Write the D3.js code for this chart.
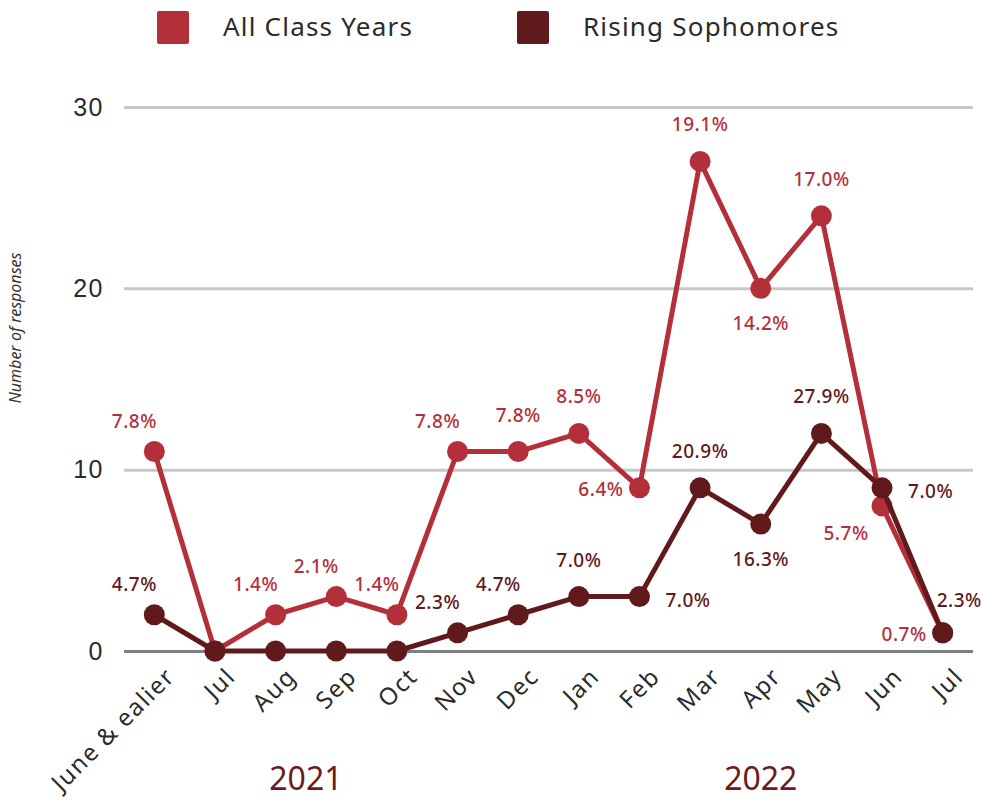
<!DOCTYPE html>
<html>
<head>
<meta charset="utf-8">
<script src="https://cdn.jsdelivr.net/npm/d3@7"></script>
<style>
  body { margin: 0; background: #fff; }
  svg { font-family: "Noto Sans", sans-serif; }
</style>
</head>
<body>
<script>
// categories along the x axis
const months = ["June & ealier", "Jul", "Aug", "Sep", "Oct", "Nov", "Dec", "Jan", "Feb", "Mar", "Apr", "May", "Jun", "Jul"];
const years = [{ name: "2021", from: 1, to: 4 }, { name: "2022", from: 7, to: 13 }];

// number of responses
const allYears = [11, 0, 2, 3, 2, 11, 11, 12, 9, 27, 20, 24, 8, 1];
const sophomores = [2, 0, 0, 0, 0, 1, 2, 3, 3, 9, 7, 12, 9, 1];

// percent labels (null = no label)
const allYearsPct = ["7.8%", null, "1.4%", "2.1%", "1.4%", "7.8%", "7.8%", "8.5%", "6.4%", "19.1%", "14.2%", "17.0%", "5.7%", "0.7%"];
const sophPct = ["4.7%", null, null, null, null, "2.3%", "4.7%", "7.0%", "7.0%", "20.9%", "16.3%", "27.9%", "7.0%", "2.3%"];

const yTicks = [0, 10, 20, 30];

// where each label sits relative to its point
const allYearsPos = ["nw", null, "nw", "nw", "nw", "nw", "n", "n", "w", "n", "s", "n", "sw", "w"];
const sophPos = ["nw", null, null, null, null, "nw", "nw", "n", "e", "n", "s", "n", "e", "ne"];

const width = 981, height = 809;
const red = "#b3303a", dark = "#611a1c";

const svg = d3.select("body").append("svg")
  .attr("width", width)
  .attr("height", height);

const x = d3.scalePoint()
  .domain(d3.range(months.length))
  .range([124, 973])
  .padding(0.5);

const y = d3.scaleLinear()
  .domain([0, 30])
  .range([651, 107]);

// gridlines + y tick labels
const yAxis = d3.axisLeft(y).tickValues(yTicks).tickSize(-(973 - 124)).tickPadding(20);
svg.append("g")
  .attr("transform", "translate(124,0)")
  .call(yAxis)
  .call(g => g.select(".domain").remove())
  .call(g => g.selectAll(".tick line")
    .attr("stroke", d => d === 0 ? "#808080" : "#c8c8c8")
    .attr("stroke-width", 3))
  .call(g => g.selectAll(".tick text")
    .attr("fill", "#2b2b2b")
    .attr("font-size", 25)
    .attr("letter-spacing", 1.5)
    .attr("font-weight", 500));

// y axis title
svg.append("text")
  .attr("transform", "translate(21,328) rotate(-90)")
  .attr("text-anchor", "middle")
  .attr("font-size", 16)
  .attr("font-style", "italic")
  .attr("fill", "#333")
  .text("Number of responses");

// x tick labels
svg.append("g")
  .selectAll("text")
  .data(months)
  .join("text")
  .attr("transform", (d, i) => `translate(${x(i) + 16},${672}) rotate(-45)`)
  .attr("text-anchor", "end")
  .attr("dy", "0.35em")
  .attr("font-size", 24)
  .attr("letter-spacing", 1.5)
  .attr("fill", "#2b2b2b")
  .text(d => d);

// year labels
svg.append("g")
  .selectAll("text")
  .data(years)
  .join("text")
  .attr("x", d => (x(d.from) + x(d.to)) / 2)
  .attr("y", 790)
  .attr("text-anchor", "middle")
  .attr("font-size", 32)
  .attr("fill", "#6b1b20")
  .text(d => d.name);

const line = d3.line()
  .x((d, i) => x(i))
  .y(d => y(d));

function drawSeries(values, color) {
  svg.append("path")
    .datum(values)
    .attr("fill", "none")
    .attr("stroke", color)
    .attr("stroke-width", 5)
    .attr("stroke-linejoin", "round")
    .attr("d", line);
  svg.append("g")
    .selectAll("circle")
    .data(values)
    .join("circle")
    .attr("cx", (d, i) => x(i))
    .attr("cy", d => y(d))
    .attr("r", 10.5)
    .attr("fill", color);
}

const offsets = {
  n: [0, -30, "middle"],
  s: [0, 42, "middle"],
  nw: [-20, -24, "middle"],
  sw: [-36, 34, "middle"],
  w: [-16, 8, "end"],
  e: [26, 10, "start"],
  ne: [-6, -26, "start"]
};

function drawLabels(values, labels, pos, color) {
  const items = values
    .map((v, i) => ({ v, i, label: labels[i], pos: pos[i] }))
    .filter(d => d.label !== null);
  svg.append("g")
    .selectAll("text")
    .data(items)
    .join("text")
    .attr("x", d => x(d.i) + offsets[d.pos][0])
    .attr("y", d => y(d.v) + offsets[d.pos][1])
    .attr("text-anchor", d => offsets[d.pos][2])
    .attr("font-size", 19)
    .attr("font-weight", 500)
    .attr("letter-spacing", 0.5)
    .attr("fill", color)
    .text(d => d.label);
}

drawSeries(allYears, red);
drawSeries(sophomores, dark);
drawLabels(allYears, allYearsPct, allYearsPos, red);
drawLabels(sophomores, sophPct, sophPos, dark);

// legend
const legend = svg.append("g");
[["All Class Years", red, 157], ["Rising Sophomores", dark, 517]].forEach(d => {
  legend.append("rect")
    .attr("x", d[2]).attr("y", 11)
    .attr("width", 32).attr("height", 33)
    .attr("rx", 2)
    .attr("fill", d[1]);
  legend.append("text")
    .attr("x", d[2] + 66).attr("y", 27)
    .attr("dy", "0.35em")
    .attr("font-size", 26)
    .attr("letter-spacing", 1.2)
    .attr("fill", "#2b2b2b")
    .text(d[0]);
});
</script>
</body>
</html>
